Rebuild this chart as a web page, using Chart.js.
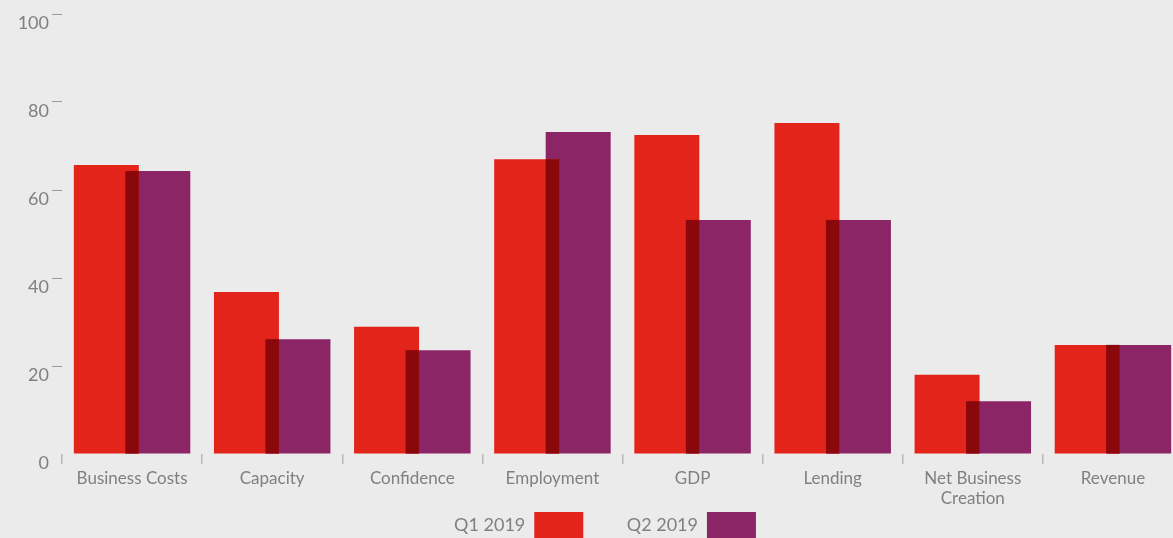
<!DOCTYPE html>
<html>
<head>
<meta charset="utf-8">
<script src="https://cdn.jsdelivr.net/npm/chart.js@4"></script>
<style>
html,body{margin:0;padding:0;background:#ebebeb;overflow:hidden;}
#wrap{position:relative;width:1191px;height:548px;}
</style>
</head>
<body>
<div id="wrap"><canvas id="c"></canvas></div>
<script>
const categories = ['Business Costs', 'Capacity', 'Confidence', 'Employment', 'GDP', 'Lending', ['Net Business', 'Creation'], 'Revenue'];
const seriesNames = ['Q1 2019', 'Q2 2019'];
const q1Values = [65.7, 36.8, 28.9, 67.0, 72.5, 75.2, 18.0, 24.8];
const q2Values = [64.3, 26.1, 23.6, 73.2, 53.2, 53.2, 12.0, 24.8];
const yTicks = [0, 20, 40, 60, 80, 100];

const RED = '#e3241a', PURPLE = '#8b2566', DARK = '#8a070c', TEXT = '#808080';
const FONT = 'Lato';

const overlapPlugin = {
  id: 'overlap',
  afterDatasetsDraw(chart) {
    const m0 = chart.getDatasetMeta(0).data, m1 = chart.getDatasetMeta(1).data;
    const ctx = chart.ctx;
    ctx.save();
    ctx.fillStyle = DARK;
    for (let i = 0; i < m0.length; i++) {
      const a = m0[i].getProps(['x','y','base','width'], true);
      const b = m1[i].getProps(['x','y','base','width'], true);
      const l = Math.max(a.x - a.width/2, b.x - b.width/2);
      const r = Math.min(a.x + a.width/2, b.x + b.width/2);
      const t = Math.max(a.y, b.y);
      const bot = Math.min(a.base, b.base);
      if (r > l && bot > t) ctx.fillRect(l, t, r - l, bot - t);
    }
    ctx.restore();
  }
};

new Chart(document.getElementById('c'), {
  type: 'bar',
  data: {
    labels: categories,
    datasets: [
      { label: seriesNames[0], data: q1Values, backgroundColor: RED, borderWidth: 0 },
      { label: seriesNames[1], data: q2Values, backgroundColor: PURPLE, borderWidth: 0 }
    ]
  },
  options: {
    responsive: true,
    maintainAspectRatio: false,
    animation: false,
    categoryPercentage: 0.735,
    barPercentage: 1.262,
    layout: { padding: { left: 19, right: 0, top: 14, bottom: 0 } },
    plugins: {
      tooltip: { enabled: false },
      legend: {
        position: 'bottom',
        rtl: true,
        reverse: true,
        labels: {
          boxWidth: 49,
          boxHeight: 26,
          padding: 2,
          color: TEXT,
          font: { family: FONT, size: 18 },
          generateLabels(chart) {
            const items = Chart.defaults.plugins.legend.labels.generateLabels(chart);
            items.forEach((it, i) => { if (i > 0) it.text = '         ' + it.text; });
            return items;
          }
        }
      }
    },
    scales: {
      x: {
        border: { display: false },
        grid: { display: true, drawOnChartArea: false, drawTicks: true, tickLength: 10, color: '#b8b8b8', offset: true, lineWidth: 1.5 },
        ticks: { color: TEXT, padding: 5, font: { family: FONT, size: 17, lineHeight: '20px' }, maxRotation: 0, autoSkip: false },
        afterFit(s) { s.height = 56; }
      },
      y: {
        min: 0, max: 100,
        border: { display: false },
        afterBuildTicks(s) { s.ticks = yTicks.map(v => ({ value: v })); },
        grid: {
          drawOnChartArea: false, drawTicks: true, tickLength: 10,
          color: ctx => (ctx.tick && ctx.tick.value === 0) ? 'rgba(0,0,0,0)' : '#9a9a9a'
        },
        ticks: { color: TEXT, padding: 3, labelOffset: 9, font: { family: FONT, size: 18 } },
        afterFit(s) { s.width = 43; }
      },
      y2: {
        position: 'right',
        display: true,
        border: { display: false },
        grid: { display: false },
        ticks: { display: false },
        afterFit(s) { s.width = 8; }
      }
    }
  },
  plugins: [overlapPlugin]
});
</script>
</body>
</html>
